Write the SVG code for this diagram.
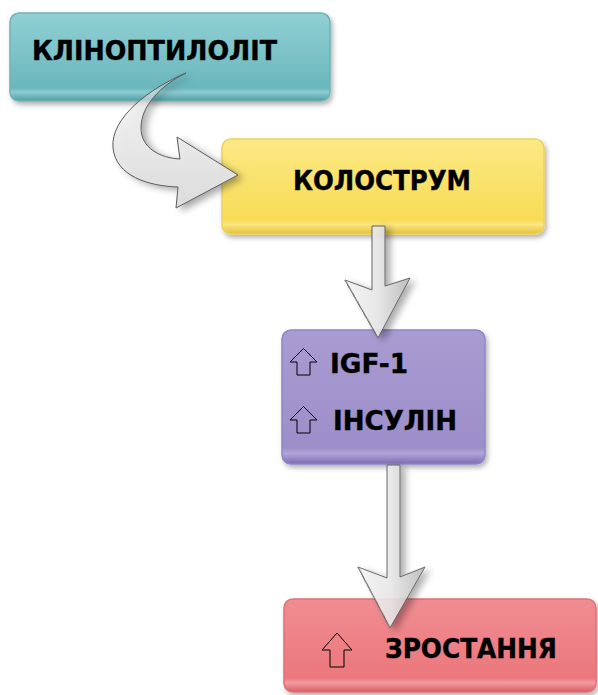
<svg xmlns="http://www.w3.org/2000/svg" width="598" height="695" viewBox="0 0 598 695">
<defs>
<style>
.lbl{font-family:"DejaVu Sans","Verdana","Liberation Sans",sans-serif;font-weight:bold;font-size:27px;fill:#000;stroke:#000;stroke-width:0.4}
.box{stroke-width:1.5}
.icon{fill:none;stroke:#000;stroke-width:1;stroke-linejoin:miter}
.arr{stroke:#5a5a5a;stroke-width:1}
</style>
<linearGradient id="gTeal" x1="0" y1="0" x2="0" y2="1">
<stop offset="0" stop-color="#91d0d4"/><stop offset="0.85" stop-color="#6ab7bd"/><stop offset="0.9" stop-color="#8ccbd0"/><stop offset="1" stop-color="#4f9ea5"/>
</linearGradient>
<linearGradient id="gYel" x1="0" y1="0" x2="0" y2="1">
<stop offset="0" stop-color="#fbe985"/><stop offset="0.85" stop-color="#f8dc56"/><stop offset="0.9" stop-color="#fbe680"/><stop offset="1" stop-color="#e3c13c"/>
</linearGradient>
<linearGradient id="gPur" x1="0" y1="0" x2="0" y2="1">
<stop offset="0" stop-color="#a99cd1"/><stop offset="0.88" stop-color="#9d8ec9"/><stop offset="0.92" stop-color="#b2a6d8"/><stop offset="1" stop-color="#7c6bb2"/>
</linearGradient>
<linearGradient id="gRed" x1="0" y1="0" x2="0" y2="1">
<stop offset="0" stop-color="#f08d92"/><stop offset="0.85" stop-color="#eb777c"/><stop offset="0.9" stop-color="#f29ca0"/><stop offset="1" stop-color="#d65d63"/>
</linearGradient>
<linearGradient id="gArr" x1="0" y1="0" x2="1" y2="0">
<stop offset="0" stop-color="#f4f4f4"/><stop offset="0.5" stop-color="#e6e6e6"/><stop offset="1" stop-color="#b9b9b9"/>
</linearGradient>
<linearGradient id="gCurve" x1="0" y1="0" x2="0" y2="1">
<stop offset="0" stop-color="#e8e8e8" stop-opacity="0.15"/><stop offset="0.35" stop-color="#eeeeee" stop-opacity="0.9"/><stop offset="1" stop-color="#dcdcdc"/>
</linearGradient>
<filter id="sh" x="-10%" y="-10%" width="125%" height="130%">
<feDropShadow dx="2" dy="3" stdDeviation="2.5" flood-color="#000" flood-opacity="0.3"/>
</filter>
<filter id="ash" x="-30%" y="-20%" width="170%" height="150%">
<feDropShadow dx="5" dy="3" stdDeviation="3.5" flood-color="#000" flood-opacity="0.35"/>
</filter>
</defs>
<g id="klinoptilolit">
<rect class="box" x="10" y="13" width="320" height="88" rx="9" fill="url(#gTeal)" stroke="#6fb3b8" filter="url(#sh)"/>
<text class="lbl" x="32" y="60" textLength="245" lengthAdjust="spacingAndGlyphs">КЛІНОПТИЛОЛІТ</text>
</g>
<g id="kolostrum">
<rect class="box" x="222" y="139" width="322" height="95" rx="9" fill="url(#gYel)" stroke="#ecd25a" filter="url(#sh)"/>
<text class="lbl" x="293" y="190" textLength="178" lengthAdjust="spacingAndGlyphs">КОЛОСТРУМ</text>
</g>
<g id="igf-insulin">
<rect class="box" x="282" y="330" width="203" height="134" rx="9" fill="url(#gPur)" stroke="#9484c4" filter="url(#sh)"/>
<path class="icon" d="M290 362 L303.5 348.5 L317 362 L310 362 L310 375 L297 375 L297 362 Z"/>
<text class="lbl" x="330" y="373" textLength="78" lengthAdjust="spacingAndGlyphs">IGF-1</text>
<path class="icon" d="M290 420 L303.5 406.5 L317 420 L310 420 L310 433 L297 433 L297 420 Z"/>
<text class="lbl" x="333" y="430" textLength="124" lengthAdjust="spacingAndGlyphs">ІНСУЛІН</text>
</g>
<g id="zrostannia">
<rect class="box" x="284" y="599" width="312" height="93" rx="9" fill="url(#gRed)" stroke="#e46f75" filter="url(#sh)"/>
<path class="icon" d="M322 650 L337 633 L352 650 L344 650 L344 667 L330 667 L330 650 Z"/>
<text class="lbl" x="385" y="658" textLength="172" lengthAdjust="spacingAndGlyphs">ЗРОСТАННЯ</text>
</g>
<g id="connectors">
<path class="arr" filter="url(#ash)" fill="url(#gCurve)" d="M186 73 C150 88 110 118 113 148 C116 176 148 186 178 187 L176 208 L238 175 L177 137 L180 159 C160 158 141 148 141 128 C141 106 160 86 186 73 Z"/>
<g filter="url(#ash)" opacity="0.93">
<path class="arr" fill="url(#gArr)" d="M372 226 L385 226 L385 286 L410 278 L378 338 L345 280 L372 290 Z"/>
<path d="M345 280 L378 338" fill="none" stroke="#777" stroke-width="1.5" stroke-dasharray="1.5 1"/>
</g>
<g filter="url(#ash)" opacity="0.9">
<path class="arr" fill="url(#gArr)" d="M387 465 L400 465 L400 577 L425 567 L390 628 L358 567 L387 578 Z"/>
<path d="M358 567 L390 628" fill="none" stroke="#777" stroke-width="1.5" stroke-dasharray="1.5 1"/>
</g>
</g>
</svg>
